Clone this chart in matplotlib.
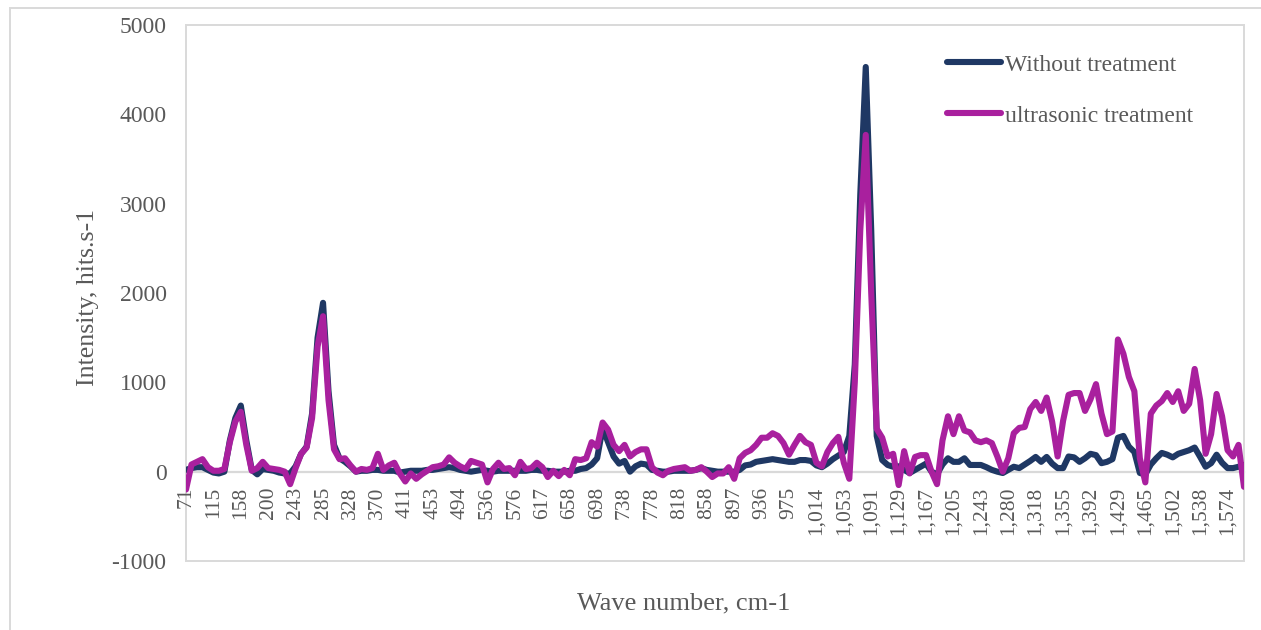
import numpy as np
import matplotlib
matplotlib.use("Agg")
import matplotlib.pyplot as plt
from matplotlib.patches import Rectangle

# tick labels of the category axis (one label every 5 points)
wave_labels = ["71", "115", "158", "200", "243", "285", "328", "370", "411", "453",
               "494", "536", "576", "617", "658", "698", "738", "778", "818", "858",
               "897", "936", "975", "1,014", "1,053", "1,091", "1,129", "1,167", "1,205",
               "1,243", "1,280", "1,318", "1,355", "1,392", "1,429", "1,465", "1,502",
               "1,538", "1,574"]
label_step = 5

# intensity
without_treatment = [
    20, 40, 50, 50, 20, -10,
    -20, 0, 350, 600, 740,
    350, 20, -30, 30, 20,
    10, -10, -20, -20, 60,
    200, 280, 650, 1500, 1890,
    900, 300, 150, 110, 60,
    0, 10, 10, 20, 20,
    10, 10, 10, -10, 0,
    10, 10, 10, 20, 20,
    30, 40, 50, 40, 20,
    10, 0, 10, 20, 10,
    0, 10, 10, 10, 10,
    10, 10, 20, 20, 10,
    10, 0, 0, 0, 10,
    10, 30, 40, 80, 150,
    490, 330, 170, 90, 120,
    0, 60, 90, 80, 20,
    10, 0, 0, 10, 10,
    10, 10, 20, 40, 20,
    10, 0, 0, 0, 0,
    20, 70, 80, 110, 120,
    130, 140, 130, 120, 110,
    110, 130, 130, 120, 70,
    50, 90, 140, 180, 220,
    400, 1200, 3100, 4530, 2700,
    400, 130, 75, 55, 60,
    20, -15, 20, 55, 90,
    0, -30, 80, 150, 110,
    110, 150, 75, 75, 75,
    50, 20, 0, -15, 20,
    55, 40, 80, 120, 165,
    110, 165, 90, 40, 40,
    170, 160, 110, 150, 200,
    185, 95, 110, 140, 380,
    400, 280, 220, -15, -30,
    80, 150, 210, 190, 160,
    200, 220, 240, 270, 165,
    55, 95, 190, 100, 40,
    40, 55, 75,
]

ultrasonic_treatment = [
    -200, 80, 110, 140, 50, 10,
    10, 30, 330, 560, 670,
    300, 10, 40, 110, 40,
    30, 20, 0, -140, 40,
    200, 270, 600, 1400, 1740,
    800, 250, 140, 150, 70,
    0, 30, 20, 40, 200,
    20, 70, 100, -20, -110,
    -20, -80, -30, 10, 50,
    60, 80, 160, 100, 60,
    30, 120, 100, 80, -120,
    30, 100, 30, 40, -40,
    110, 30, 40, 100, 50,
    -60, 10, -50, 20, -40,
    140, 130, 150, 330, 280,
    550, 470, 300, 230, 300,
    170, 220, 250, 250, 50,
    -10, -40, 10, 30, 40,
    50, 10, 20, 50, 0,
    -60, -20, -20, 50, -80,
    150, 210, 240, 300, 380,
    380, 430, 400, 320, 190,
    300, 400, 330, 300, 100,
    60, 220, 320, 390, 100,
    -80, 1000, 2700, 3770, 2000,
    480, 380, 170, 200, -150,
    230, -20, 165, 185, 185,
    0, -140, 350, 620, 420,
    620, 460, 440, 350, 330,
    350, 320, 170, 0, 150,
    430, 490, 500, 700, 780,
    680, 830, 560, 170, 570,
    860, 880, 880, 680, 810,
    980, 650, 420, 450, 1480,
    1320, 1060, 900, 150, -120,
    650, 740, 790, 880, 780,
    900, 680, 760, 1150, 800,
    200, 420, 870, 620, 240,
    170, 300, -170,
]

plt.rcParams["font.family"] = ["Liberation Serif", "DejaVu Serif"]
text_color = "#595959"
grid_color = "#D9D9D9"

fig = plt.figure(figsize=(12.61, 6.30), dpi=100)
ax = fig.add_axes([186 / 1261, 1 - 561 / 630, (1244 - 186) / 1261, (561 - 25) / 630])

x = np.arange(len(without_treatment))
ax.plot(x, without_treatment, color="#1F3864", lw=4.4, solid_joinstyle="round",
        solid_capstyle="round", label="Without treatment", zorder=3)
ax.plot(x, ultrasonic_treatment, color="#A9209E", lw=4.4, solid_joinstyle="round",
        solid_capstyle="round", label="ultrasonic treatment", zorder=4)

# category axis crosses at zero, plot area gets its own thin frame
for side in ["top", "left", "right"]:
    ax.spines[side].set_visible(False)
ax.spines["bottom"].set_position(("data", 0))
ax.spines["bottom"].set_color(grid_color)
ax.spines["bottom"].set_linewidth(1.6)
ax.spines["bottom"].set_zorder(1)
ax.add_patch(Rectangle((0, 0), 1, 1, transform=ax.transAxes, fill=False,
                       ec=grid_color, lw=1.4, clip_on=False, zorder=0))

ax.set_xlim(0, len(x) - 1)
ax.set_ylim(-1000, 5000)
ax.set_yticks(np.arange(-1000, 5001, 1000))
ax.set_yticklabels([str(v) for v in range(-1000, 5001, 1000)])
ax.set_xticks(np.arange(0, len(wave_labels) * label_step, label_step))
ax.set_xticklabels(wave_labels)

ax.tick_params(axis="y", length=0, pad=14, labelsize=17, labelcolor=text_color)
ax.tick_params(axis="x", length=0, pad=11, labelsize=15.5, labelcolor=text_color,
               labelrotation=90)

fig.text(88 / 1261, 1 - 297 / 630, "Intensity, hits.s-1", rotation=90, ha="center",
         va="center", fontsize=18.6, color=text_color)
fig.text(684 / 1261, 1 - 603 / 630, "Wave number, cm-1", ha="center", va="center",
         fontsize=19, color=text_color)

leg = ax.legend(loc="upper left", bbox_to_anchor=(947 / 1261, 1 - 54 / 630),
                bbox_transform=fig.transFigure, frameon=False, fontsize=17,
                handlelength=2.3, handletextpad=0.15, labelspacing=1.25,
                borderpad=0, borderaxespad=0)
for t in leg.get_texts():
    t.set_color(text_color)

# chart area border (only left and top edges fall inside the picture)
fig.patches.append(Rectangle((10 / 1261, -0.1), 2, 1.1 - 8 / 630, transform=fig.transFigure,
                             fill=False, ec=grid_color, lw=1.4))

fig.savefig("out.png", dpi=100)
